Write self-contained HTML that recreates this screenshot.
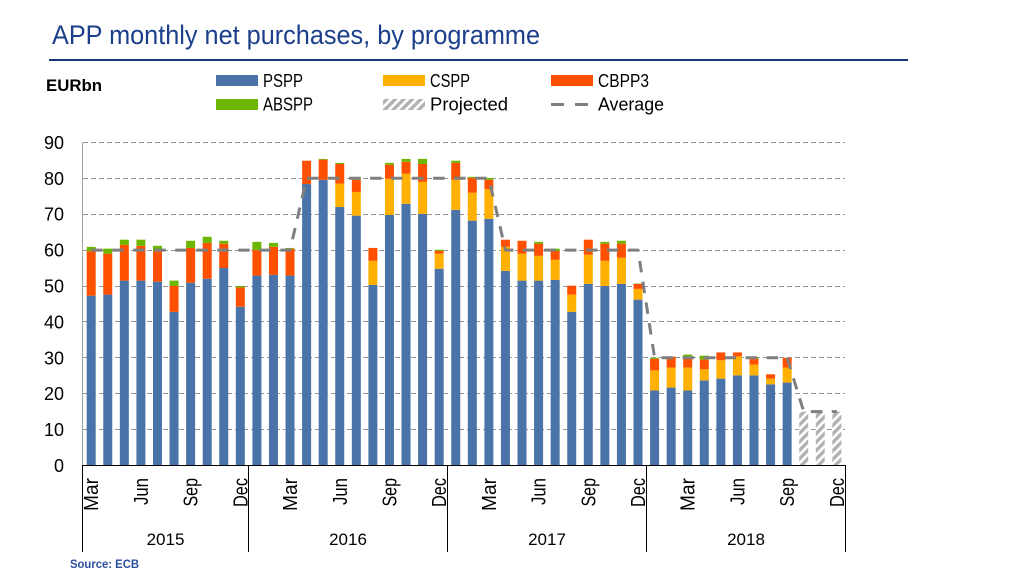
<!DOCTYPE html>
<html lang="en">
<head>
<meta charset="utf-8">
<title>APP monthly net purchases, by programme</title>
<style>
html,body{margin:0;padding:0;background:#fff;width:1024px;height:576px;overflow:hidden}
svg{display:block}
text{font-family:"Liberation Sans",sans-serif;fill:#000}
</style>
</head>
<body>
<svg id="chart" xmlns="http://www.w3.org/2000/svg" width="1024" height="576" viewBox="0 0 1024 576">
  <defs>
    <pattern id="hatch" width="6" height="6" patternUnits="userSpaceOnUse" patternTransform="rotate(45)">
      <rect width="6" height="6" fill="#ffffff"/>
      <rect width="3.4" height="6" fill="#b2b2b2"/>
    </pattern>
  </defs>
  <text x="52" y="44" font-size="26.5" textLength="488" lengthAdjust="spacingAndGlyphs" style="fill:#1c3f8b">APP monthly net purchases, by programme</text>
  <rect x="49" y="59" width="859" height="2" fill="#153a7c"/>
  <text x="46" y="91" font-size="17" font-weight="bold" textLength="56" lengthAdjust="spacingAndGlyphs">EURbn</text>

  <g>
    <rect x="216" y="75" width="42" height="11" fill="#4a74a9"/>
    <text x="263" y="87" font-size="18" textLength="40" lengthAdjust="spacingAndGlyphs">PSPP</text>
    <rect x="383" y="75" width="42" height="11" fill="#ffb000"/>
    <text x="430" y="87" font-size="18" textLength="40" lengthAdjust="spacingAndGlyphs">CSPP</text>
    <rect x="551" y="75" width="42" height="11" fill="#ff5000"/>
    <text x="598" y="87" font-size="18" textLength="51" lengthAdjust="spacingAndGlyphs">CBPP3</text>
    <rect x="216" y="99" width="42" height="11" fill="#6cb600"/>
    <text x="263" y="110.5" font-size="18" textLength="50" lengthAdjust="spacingAndGlyphs">ABSPP</text>
    <rect x="383" y="99" width="42" height="11" fill="url(#hatch)"/>
    <text x="430" y="110.5" font-size="18" textLength="78" lengthAdjust="spacingAndGlyphs">Projected</text>
    <line x1="551" y1="104.5" x2="593" y2="104.5" stroke="#7f7f7f" stroke-width="3" stroke-dasharray="13 11"/>
    <text x="598" y="110.5" font-size="18" textLength="66" lengthAdjust="spacingAndGlyphs">Average</text>
  </g>

  <g id="grid"></g>
  <g id="bars"></g>
  <g id="line"></g>
  <g id="axes"></g>

  <text x="70" y="568" font-size="11.5" font-weight="bold" textLength="69" lengthAdjust="spacingAndGlyphs" style="fill:#2a4f9e">Source: ECB</text>
</svg>
<script>
const categories = [
  'Mar','Apr','May','Jun','Jul','Aug','Sep','Oct','Nov','Dec',
  'Jan','Feb','Mar','Apr','May','Jun','Jul','Aug','Sep','Oct','Nov','Dec',
  'Jan','Feb','Mar','Apr','May','Jun','Jul','Aug','Sep','Oct','Nov','Dec',
  'Jan','Feb','Mar','Apr','May','Jun','Jul','Aug','Sep','Oct','Nov','Dec'
];
const years = ['2015','2016','2017','2018'];
const yearMonthCounts = [10,12,12,12];
const tickMonths = ['Mar','Jun','Sep','Dec'];
const yTicks = [0,10,20,30,40,50,60,70,80,90];
const pspp = [
  47.3,47.6,51.5,51.5,51.2,42.8,50.9,52,55,44.2,
  52.9,53.1,52.9,78.4,79.6,72,69.6,50.3,69.8,72.9,70.1,54.8,
  71.2,68.2,68.7,54.2,51.5,51.5,51.7,42.8,50.6,50,50.6,46.2,
  20.9,21.7,20.9,23.7,24.2,25.1,25.1,22.6,23.1,0,0,0
];
const cspp = [
  0,0,0,0,0,0,0,0,0,0,
  0,0,0,0,0,6.5,6.6,6.7,10.1,8.4,8.9,4.2,
  8.4,7.8,8.3,6.7,7.5,6.9,5.6,4.8,8.1,7,7.3,3,
  5.6,5.6,6.4,3.1,5.1,5.3,3,1.6,4.2,0,0,0
];
const cbpp3 = [
  12.4,11.4,10,9.7,8.4,7.2,9.7,10,6.8,5.4,
  7.1,7.8,7.5,6.5,5.6,5.5,3.4,3.6,3.9,3.3,5,0.8,
  4.7,4.1,2.6,2,3.6,3.4,2.5,2.5,4.2,4.8,3.9,1.4,
  3.2,3,2.8,2.7,2.2,1.1,1.7,1.2,2.7,0,0,0
];
const abspp = [
  1.2,1.4,1.4,1.7,1.6,1.5,2,1.7,0.8,0.4,
  2.3,1.1,0.2,0,0.2,0.3,0.7,0,0.5,0.8,1.4,0.3,
  0.6,0.3,0.5,0,0,0.5,0.6,0,0,0.5,0.8,0.1,
  0.3,0,0.8,1.1,0,0,0.3,0,0,0,0,0
];
const projected = [
  0,0,0,0,0,0,0,0,0,0,
  0,0,0,0,0,0,0,0,0,0,0,0,
  0,0,0,0,0,0,0,0,0,0,0,0,
  0,0,0,0,0,0,0,0,0,15,15,15
];
const average = [
  60,60,60,60,60,60,60,60,60,60,
  60,60,60,80,80,80,80,80,80,80,80,80,
  80,80,80,60,60,60,60,60,60,60,60,60,
  30,30,30,30,30,30,30,30,30,15,15,15
];

const NS = 'http://www.w3.org/2000/svg';
function xScale(i){ return 91.2 + 16.57 * i; }
function yScale(v){ return 465.5 - 3.59 * v; }
function monthLength(name){
  if (name === 'Mar') return 33;
  if (name === 'Jun') return 27;
  if (name === 'Sep') return 28.5;
  return 29;
}
function make(tag, parent, props){
  const el = document.createElementNS(NS, tag);
  for (const k in props) el.setAttribute(k, props[k]);
  parent.appendChild(el);
  return el;
}
const gridG = document.getElementById('grid');
const barsG = document.getElementById('bars');
const lineG = document.getElementById('line');
const axesG = document.getElementById('axes');

/* gridlines and y tick labels */
yTicks.forEach(function(t){
  const yp = Math.round(yScale(t) - 0.5) + 0.5;
  if (t > 0) {
    const g = make('line', gridG, {x1:83, x2:845, y1:yp, y2:yp, stroke:'#969696', 'stroke-width':1, 'stroke-dasharray':'5 3'});
    
    
  }
  const lab = make('text', axesG, {x:64, y:yScale(t) + 6.5, 'font-size':18, 'text-anchor':'end'});
  lab.textContent = String(t);
  
  
});

/* stacked bars */
const BAR_W = 9;
const seriesList = [
  {key:'pspp', values:pspp, fill:'#4a74a9'},
  {key:'cspp', values:cspp, fill:'#ffb000'},
  {key:'cbpp3', values:cbpp3, fill:'#ff5000'},
  {key:'abspp', values:abspp, fill:'#6cb600'},
  {key:'projected', values:projected, fill:'url(#hatch)'}
];
categories.forEach(function(c, i){
  let base = 0;
  seriesList.forEach(function(s){
    const v = s.values[i];
    if (v > 0) {
      const r = make('rect', barsG, {x:xScale(i) - BAR_W / 2, y:yScale(base + v), width:BAR_W, height:yScale(base) - yScale(base + v), fill:s.fill});
      
      
    }
    base += v;
  });
});

/* average line */
const avgPath = make('path', lineG, {
  d: average.map(function(v, i){ return (i ? 'L' : 'M') + xScale(i) + ' ' + yScale(v); }).join(' '),
  fill:'none', stroke:'#7f7f7f', 'stroke-width':3, 'stroke-dasharray':'11.5 9.5', 'stroke-linejoin':'round'
});



/* axes */
const yAxis = make('line', axesG, {x1:82.5, x2:82.5, y1:yScale(90), y2:465.5, stroke:'#a0a0a0', 'stroke-width':1});


const xAxis = make('line', axesG, {x1:82, x2:846, y1:465.5, y2:465.5, stroke:'#000', 'stroke-width':1});



/* month labels */
categories.forEach(function(c, i){
  if ((i % 3) === 0 && tickMonths.indexOf(c) >= 0) {
    const bx = xScale(i) + 7;
    const m = make('text', axesG, {x:0, y:0, 'font-size':20, 'text-anchor':'end', textLength:monthLength(c), lengthAdjust:'spacingAndGlyphs', transform:'translate(' + bx + ' 478) rotate(-90)'});
    m.textContent = c;
    
    
  }
});

/* year groups */
let start = 0;
function sep(i){ return Math.floor(xScale(i - 0.5)) + 0.5; }
const firstSep = make('line', axesG, {x1:sep(0), x2:sep(0), y1:465.5, y2:552, stroke:'#000', 'stroke-width':1});


years.forEach(function(yr, k){
  const end = start + yearMonthCounts[k];
  const s = make('line', axesG, {x1:sep(end), x2:sep(end), y1:465.5, y2:552, stroke:'#000', 'stroke-width':1});
  
  
  const t = make('text', axesG, {x:(sep(start) + sep(end)) / 2, y:545, 'font-size':17, 'text-anchor':'middle'});
  t.textContent = yr;
  
  
  start = end;
});
</script>
</body>
</html>
